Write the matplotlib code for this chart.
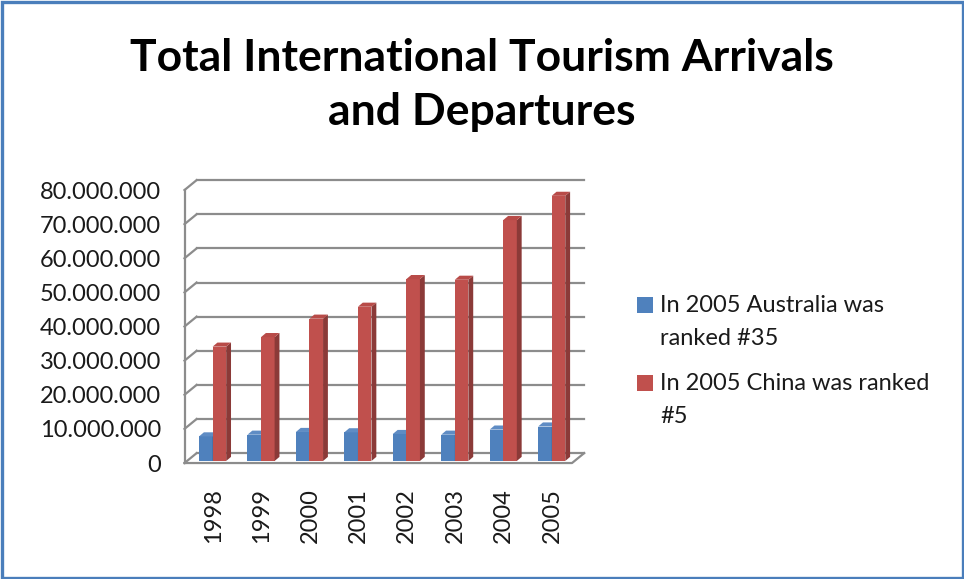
import matplotlib.pyplot as plt
from matplotlib.patches import Polygon, Rectangle
from matplotlib.ticker import FuncFormatter

plt.rcParams["font.family"] = ["Lato", "DejaVu Sans"]

years = ["1998", "1999", "2000", "2001", "2002", "2003", "2004", "2005"]
australia = [7.2e6, 7.7e6, 8.5e6, 8.4e6, 7.9e6, 7.7e6, 9.2e6, 10.1e6]
china = [33.5e6, 36.3e6, 41.7e6, 45.2e6, 53.3e6, 53.1e6, 70.6e6, 77.7e6]
series_labels = ["In 2005 Australia was\nranked #35", "In 2005 China was ranked\n#5"]

# face / side / top colours for each series
blue = ("#4F81BD", "#3A6291", "#5F8CC4")
red = ("#C0504D", "#8B3A38", "#B84B48")

YMAX = 80e6
WALL_DX, WALL_DY = 0.25, 2.9e6     # depth of the floor / side wall
BAR_SX, BAR_SY = 0.05, 0.6e6       # bars sit a little behind the front edge
BAR_DX, BAR_DY = 0.10, 1.2e6       # depth of each bar
BAR_W = 0.28
GRID = "#8C8C8C"
TXT = "#1a1a1a"

fig = plt.figure(figsize=(9.64, 5.79), dpi=100)
ax = fig.add_axes([0.1914, 0.2003, 0.402, 0.4715])
n = len(years)
xmin, xmax = -0.5, n - 0.5
ax.set_xlim(xmin, xmax)
ax.set_ylim(0, YMAX)
for s in ax.spines.values():
    s.set_visible(False)

# back wall gridlines, side wall slants and floor
for v in range(0, int(YMAX) + 1, 10_000_000):
    ax.plot([xmin + WALL_DX, xmax + WALL_DX], [v + WALL_DY, v + WALL_DY],
            color=GRID, lw=1.6, clip_on=False, zorder=1)
    ax.plot([xmin, xmin + WALL_DX], [v, v + WALL_DY],
            color=GRID, lw=1.6, clip_on=False, zorder=1)
ax.plot([xmin, xmin], [0, YMAX], color=GRID, lw=1.6, clip_on=False, zorder=1)
ax.plot([xmin, xmax, xmax + WALL_DX], [0, 0, WALL_DY],
        color=GRID, lw=1.6, clip_on=False, zorder=1)


def bar3d(x0, value, colors, z):
    face, side, top = colors
    x0 = x0 + BAR_SX
    x1 = x0 + BAR_W
    y0 = BAR_SY
    y1 = BAR_SY + value
    ax.bar(x0, value, width=BAR_W, bottom=y0, align="edge",
           color=face, zorder=z)
    ax.add_patch(Polygon([(x1, y0), (x1 + BAR_DX, y0 + BAR_DY),
                          (x1 + BAR_DX, y1 + BAR_DY), (x1, y1)],
                         closed=True, facecolor=side, edgecolor="none", zorder=z))
    ax.add_patch(Polygon([(x0, y1), (x0 + BAR_DX, y1 + BAR_DY),
                          (x1 + BAR_DX, y1 + BAR_DY), (x1, y1)],
                         closed=True, facecolor=top, edgecolor="none", zorder=z))


for i in range(n):
    bar3d(i - 0.25, australia[i], blue, 3 + 2 * i)
    bar3d(i + 0.03, china[i], red, 4 + 2 * i)

ax.set_yticks(range(0, int(YMAX) + 1, 10_000_000))
ax.yaxis.set_major_formatter(FuncFormatter(lambda v, p: f"{v:,.0f}".replace(",", ".")))
ax.set_xticks([i + 0.09 for i in range(n)])
ax.set_xticklabels(years, rotation=90)
ax.tick_params(axis="y", length=0, pad=17, labelsize=17, labelcolor=TXT)
ax.tick_params(axis="x", length=0, pad=18, labelsize=17, labelcolor=TXT)

fig.text(0.5, 1 - 85 / 579, "Total International Tourism Arrivals\nand Departures",
         ha="center", va="center", fontsize=32, fontweight="bold", linespacing=1.43)

# legend
W, H = 964, 579
for (color, label), yc in zip([(blue[0], series_labels[0]), (red[0], series_labels[1])],
                              [305, 383]):
    fig.add_artist(Rectangle((637 / W, 1 - (yc + 8) / H), 16 / W, 16 / H,
                             transform=fig.transFigure, facecolor=color, edgecolor="none"))
    fig.text(660 / W, 1 - (yc - 10) / H, label, ha="left", va="top",
             fontsize=17, color=TXT, linespacing=1.68)

# frame around the whole chart
fig.add_artist(Rectangle((1.5 / W, 1.5 / H), 1 - 3 / W, 1 - 3 / H,
                         transform=fig.transFigure, fill=False,
                         edgecolor="#4A7EBB", lw=2.4))

fig.savefig("out.png", dpi=100)
